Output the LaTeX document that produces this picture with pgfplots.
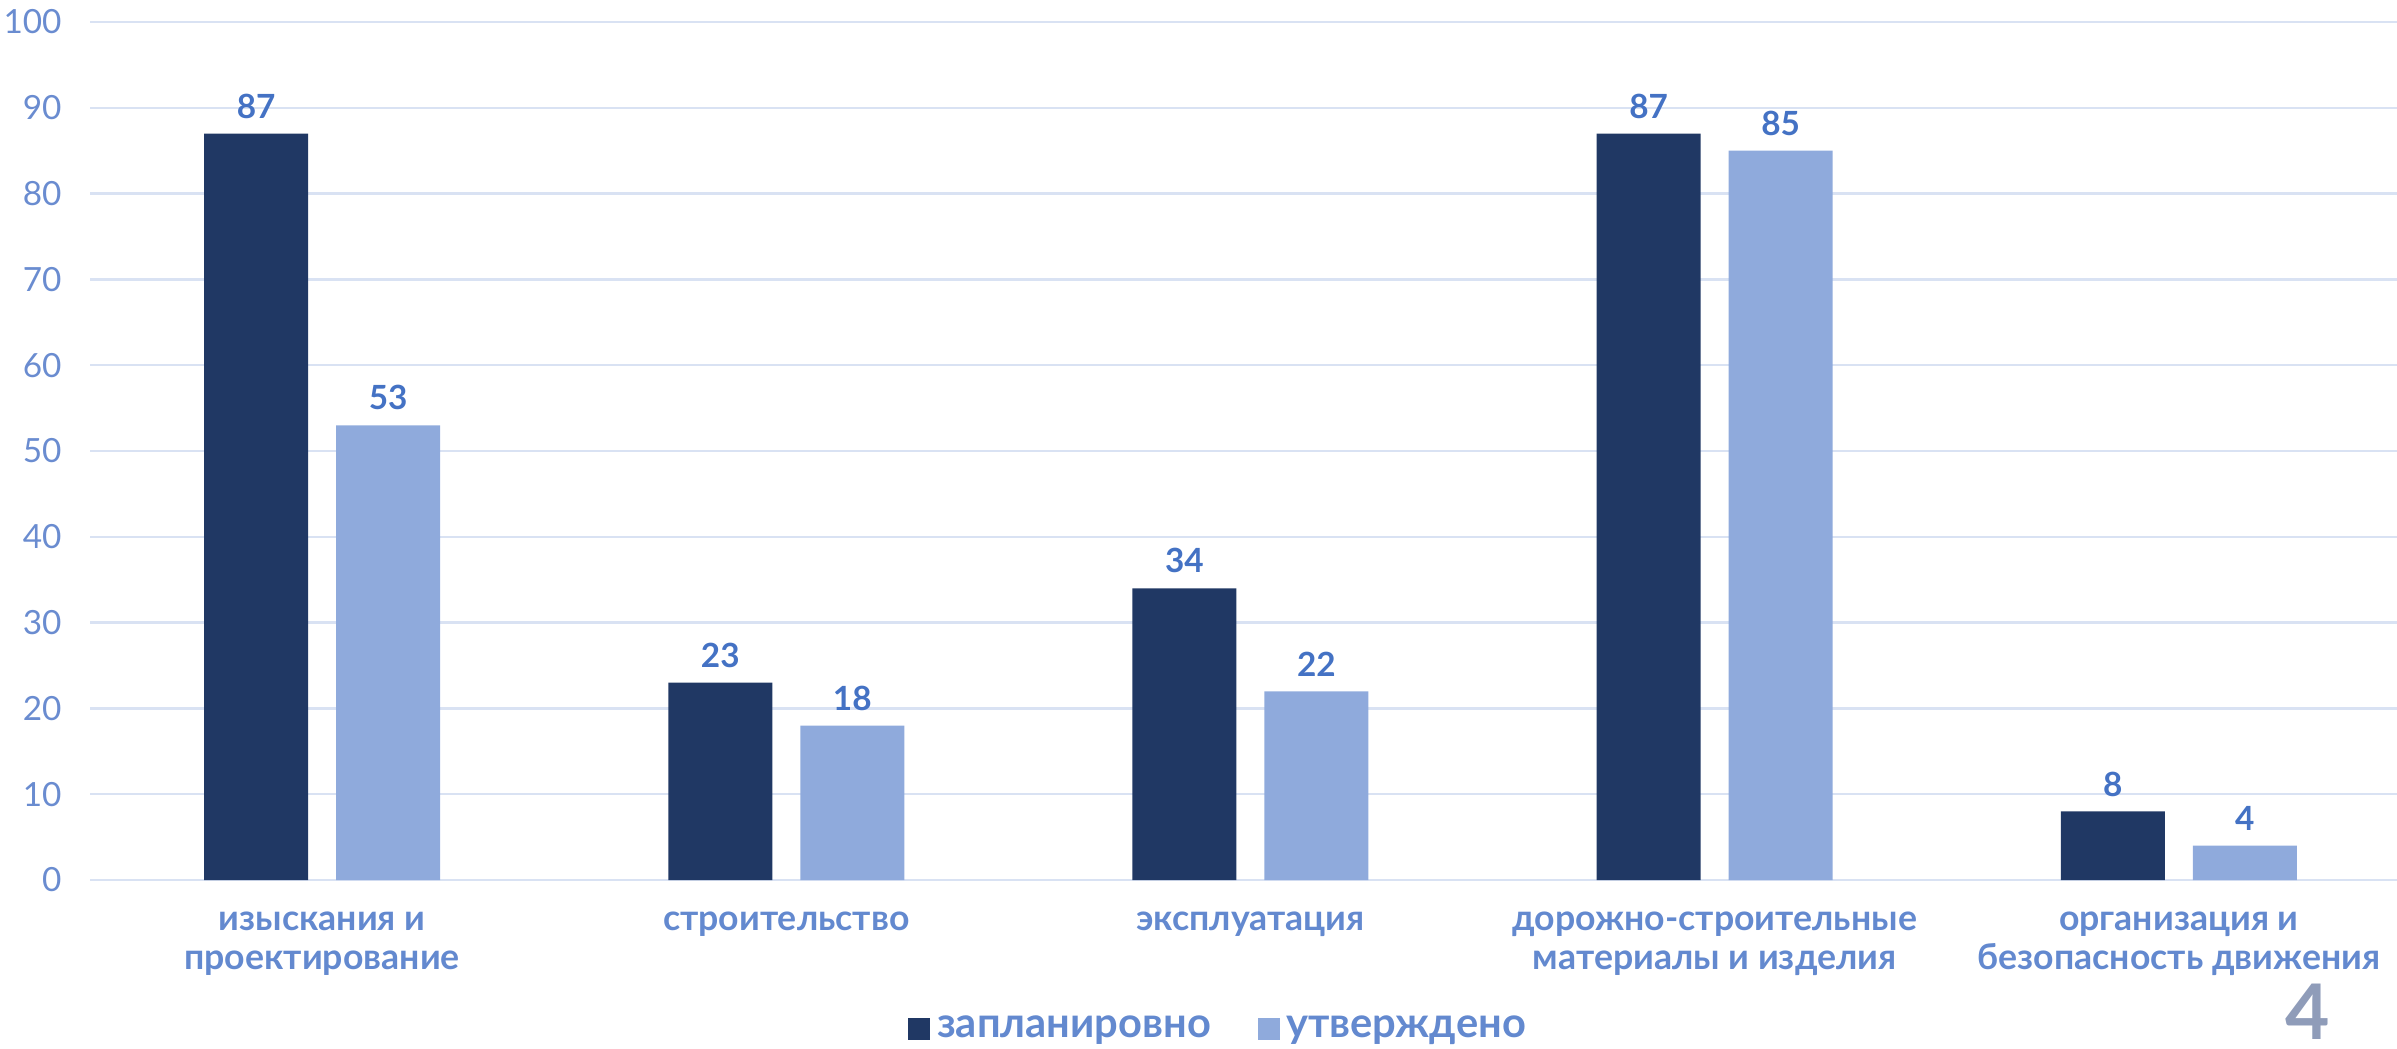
\documentclass[border=0pt]{standalone}
\usepackage{fontspec}
\setmainfont{Lato}
\usepackage{pgfplots}
\pgfplotsset{compat=1.18}

\definecolor{darkbar}{HTML}{203864}
\definecolor{lightbar}{HTML}{8FAADC}
\definecolor{valtext}{HTML}{4472C4}
\definecolor{cattext}{HTML}{6389CF}
\definecolor{ticktext}{HTML}{6A8CD0}
\definecolor{gridc}{HTML}{D9E2F3}
\definecolor{pagenum}{HTML}{8F9CB9}

\begin{document}
\begin{tikzpicture}
\begin{axis}[
    at={(27pt,50.4pt)}, anchor=south west,
    scale only axis, width=692.1pt, height=257.4pt,
    ybar, bar width=31.2pt,
    xmin=-0.5, xmax=4.47, ymin=0, ymax=100,
    ytick={0,10,...,100},
    xtick={0,1,2,3,4},
    xticklabels={изыскания и\\проектирование, строительство, эксплуатация,
                 дорожно-строительные\\материалы и изделия, организация и\\безопасность движения},
    axis line style={draw=none},
    major tick length=0pt,
    ymajorgrids,
    major grid style={color=gridc, line width=0.7pt},
    /pgf/number format/assume math mode=true,
    yticklabel style={font=\fontsize{10}{11}\selectfont, text=ticktext, xshift=-5pt},
    xticklabel style={font=\bfseries\fontsize{10.7}{11.6}\selectfont, text=cattext,
                      align=center, anchor=north, yshift=-6pt},
    nodes near coords,
    every node near coord/.append style={font=\bfseries\fontsize{10}{11}\selectfont,
                                         text=valtext, yshift=1pt},
    legend style={at={(0.49,-0.1737)}, anchor=center, draw=none, fill=none,
                  font=\bfseries\fontsize{12.5}{14}\selectfont, text=cattext,
                  /tikz/every even column/.append style={column sep=12pt}},
    legend columns=2,
    legend image code/.code={\fill[#1] (0pt,-3.3pt) rectangle (6.6pt,3.3pt);},
]
\addplot[bar shift=-19.8pt, fill=darkbar, draw=none]
    coordinates {(0,87) (1,23) (2,34) (3,87) (4,8)};
\addlegendentry{запланировно}
\addplot[bar shift=19.8pt, fill=lightbar, draw=none]
    coordinates {(0,53) (1,18) (2,22) (3,85) (4,4)};
\addlegendentry{утверждено}
\end{axis}
\node[font=\bfseries\fontsize{23}{26}\selectfont, text=pagenum, inner sep=0pt] at (692.4pt,11pt) {4};
\pgfresetboundingbox
\useasboundingbox (0,0) rectangle (719.1pt,314.4pt);
\end{tikzpicture}
\end{document}
